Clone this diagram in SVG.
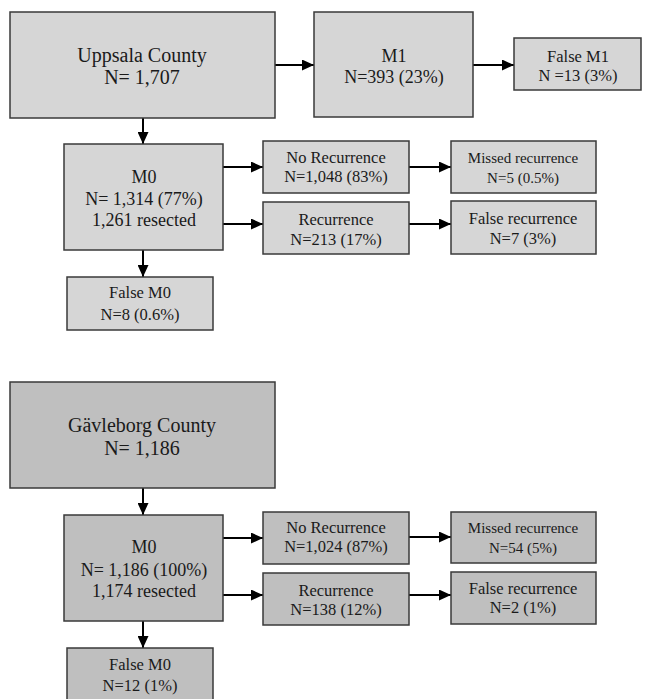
<svg xmlns="http://www.w3.org/2000/svg" width="654" height="699" viewBox="0 0 654 699">
<defs>
<marker id="ah" markerWidth="12" markerHeight="11" refX="12" refY="5.5" orient="auto" markerUnits="userSpaceOnUse">
<path d="M0,0 L12,5.5 L0,11 Z" fill="#000"/>
</marker>
<style>
.box{stroke:#3a3a3a;stroke-width:1.5}
.u{fill:#d6d6d6}
.g{fill:#bfbfbf}
text{font-family:"Liberation Serif","Times New Roman",serif;fill:#1a1a1a;text-anchor:middle}
.f20{font-size:20px}
.f18{font-size:18px}
.f16{font-size:16.5px}
.f15{font-size:15px}
.c{stroke:#000;stroke-width:2;fill:none;marker-end:url(#ah)}
</style>
</defs>
<rect width="654" height="699" fill="#fff"/>
<g id="connectors">
<line class="c" x1="275" y1="65" x2="314" y2="65"/>
<line class="c" x1="473" y1="65" x2="514" y2="65"/>
<line class="c" x1="143" y1="118" x2="143" y2="144"/>
<line class="c" x1="223" y1="167" x2="263" y2="167"/>
<line class="c" x1="223" y1="224" x2="263" y2="224"/>
<line class="c" x1="409" y1="167" x2="451" y2="167"/>
<line class="c" x1="409" y1="224" x2="451" y2="224"/>
<line class="c" x1="143" y1="250" x2="143" y2="277"/>
<line class="c" x1="143" y1="488" x2="143" y2="515"/>
<line class="c" x1="223" y1="538" x2="263" y2="538"/>
<line class="c" x1="223" y1="595" x2="263" y2="595"/>
<line class="c" x1="409" y1="537" x2="451" y2="537"/>
<line class="c" x1="409" y1="595" x2="451" y2="595"/>
<line class="c" x1="143" y1="621" x2="143" y2="648"/>
</g>
<g id="uppsala"><rect class="box u" x="10" y="12" width="265" height="106"/>
<text class="f20" x="142" y="62">Uppsala County</text><text class="f20" x="142" y="84">N= 1,707</text></g>
<g id="m1"><rect class="box u" x="314" y="12" width="159" height="105"/>
<text class="f18" x="394" y="62">M1</text><text class="f18" x="394" y="83">N=393 (23%)</text></g>
<g id="falsem1"><rect class="box u" x="514" y="38" width="127" height="52"/>
<text class="f16" x="578" y="62">False M1</text><text class="f16" x="578" y="81">N =13 (3%)</text></g>
<g id="m0u"><rect class="box u" x="64" y="144" width="159" height="106"/>
<text class="f18" x="144" y="183">M0</text><text class="f18" x="144" y="205">N= 1,314 (77%)</text><text class="f18" x="144" y="226">1,261 resected</text></g>
<g id="norecu"><rect class="box u" x="263" y="141" width="146" height="52"/>
<text class="f16" x="336" y="163">No Recurrence</text><text class="f16" x="336" y="182">N=1,048 (83%)</text></g>
<g id="recu"><rect class="box u" x="263" y="202" width="146" height="52"/>
<text class="f16" x="336" y="225">Recurrence</text><text class="f16" x="336" y="245">N=213 (17%)</text></g>
<g id="missedu"><rect class="box u" x="451" y="141" width="145" height="52"/>
<text class="f15" x="523" y="163">Missed recurrence</text><text class="f15" x="523" y="183">N=5 (0.5%)</text></g>
<g id="falserecu"><rect class="box u" x="451" y="201" width="145" height="53"/>
<text class="f16" x="523" y="224">False recurrence</text><text class="f16" x="523" y="244">N=7 (3%)</text></g>
<g id="falsem0u"><rect class="box u" x="67" y="277" width="146" height="53"/>
<text class="f16" x="140" y="298">False M0</text><text class="f16" x="140" y="320">N=8 (0.6%)</text></g>
<g id="gavleborg"><rect class="box g" x="10" y="382" width="265" height="106"/>
<text class="f20" x="142" y="432">Gävleborg County</text><text class="f20" x="142" y="455">N= 1,186</text></g>
<g id="m0g"><rect class="box g" x="64" y="515" width="159" height="106"/>
<text class="f18" x="144" y="553">M0</text><text class="f18" x="144" y="576">N= 1,186 (100%)</text><text class="f18" x="144" y="597">1,174 resected</text></g>
<g id="norecg"><rect class="box g" x="263" y="512" width="146" height="52"/>
<text class="f16" x="336" y="533">No Recurrence</text><text class="f16" x="336" y="552">N=1,024 (87%)</text></g>
<g id="recg"><rect class="box g" x="263" y="573" width="146" height="52"/>
<text class="f16" x="336" y="596">Recurrence</text><text class="f16" x="336" y="615">N=138 (12%)</text></g>
<g id="missedg"><rect class="box g" x="451" y="512" width="145" height="51"/>
<text class="f15" x="523" y="533">Missed recurrence</text><text class="f15" x="523" y="553">N=54 (5%)</text></g>
<g id="falserecg"><rect class="box g" x="451" y="572" width="145" height="52"/>
<text class="f16" x="523" y="594">False recurrence</text><text class="f16" x="523" y="613">N=2 (1%)</text></g>
<g id="falsem0g"><rect class="box g" x="67" y="648" width="146" height="60"/>
<text class="f16" x="140" y="670">False M0</text><text class="f16" x="140" y="691">N=12 (1%)</text></g>
</svg>
